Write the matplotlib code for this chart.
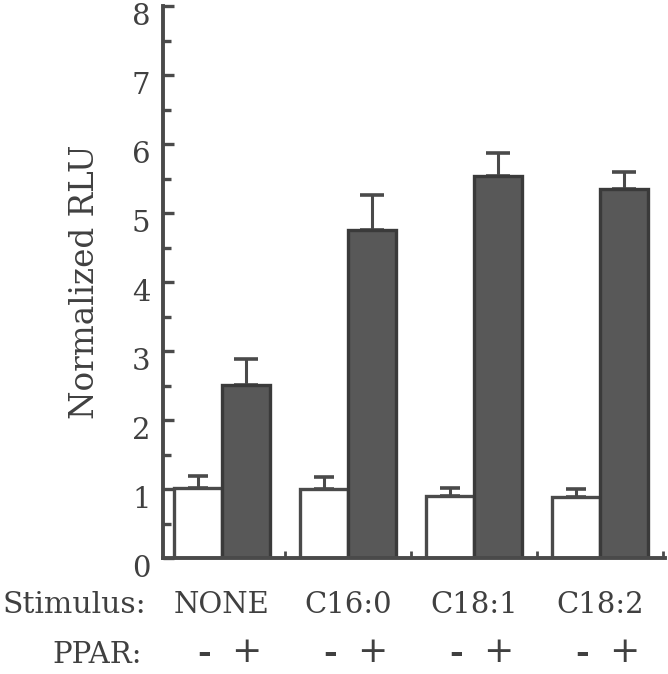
import matplotlib
matplotlib.use("Agg")
import matplotlib.pyplot as plt
import numpy as np
from matplotlib.transforms import blended_transform_factory, ScaledTranslation

stimuli = ["NONE", "C16:0", "C18:1", "C18:2"]
ppar_minus = [1.01, 1.00, 0.90, 0.88]
ppar_minus_err = [0.18, 0.17, 0.11, 0.12]
ppar_plus = [2.51, 4.75, 5.54, 5.35]
ppar_plus_err = [0.37, 0.51, 0.33, 0.24]
yticks = [0, 1, 2, 3, 4, 5, 6, 7, 8]

plt.rcParams['font.family'] = ['DejaVu Serif']
ink = '#4a4a4a'
txt = '#404040'

fig = plt.figure(figsize=(6.68, 6.74), dpi=100)
ax = fig.add_axes([0.244, 0.172, 0.7515, 0.819])

x = np.arange(len(stimuli))
w = 0.38
ax.bar(x - w/2, ppar_minus, width=w, color='white', edgecolor=ink, linewidth=2.4, zorder=2)
ax.bar(x + w/2, ppar_plus, width=w, color='#585858', edgecolor='#3a3a3a', linewidth=2.4, zorder=2)
ax.errorbar(x - w/2, ppar_minus, yerr=[np.zeros(4), ppar_minus_err], fmt='none',
            ecolor=ink, elinewidth=2.2, capsize=7.5, capthick=2.6, zorder=1)
ax.errorbar(x + w/2, ppar_plus, yerr=[np.zeros(4), ppar_plus_err], fmt='none',
            ecolor=ink, elinewidth=2.2, capsize=8.5, capthick=2.6, zorder=1)

ax.set_xlim(-0.468, 3.516)
ax.set_ylim(0, 8)
for s in ['top', 'right']:
    ax.spines[s].set_visible(False)
for s in ['left', 'bottom']:
    ax.spines[s].set_color(ink)
    ax.spines[s].set_linewidth(2.8)
    ax.spines[s].set_zorder(3)

ax.set_yticks(yticks)
ax.set_yticks(np.arange(0.5, 8, 1), minor=True)
ax.tick_params(axis='y', which='major', direction='in', length=8, width=2.4, color=ink,
               labelsize=21, labelcolor=txt, pad=9)
ax.tick_params(axis='y', which='minor', direction='in', length=6, width=2.4, color=ink)
off = ScaledTranslation(0, -6/72, fig.dpi_scale_trans)
for lab in ax.get_yticklabels():
    lab.set_transform(lab.get_transform() + off)
ax.set_xticks([0.5, 1.5, 2.5, 3.5])
ax.set_xticklabels([])
ax.tick_params(axis='x', which='major', direction='in', length=5, width=2.0, color=ink)

ax.set_ylabel("Normalized RLU", fontsize=23.5, color=txt, labelpad=22)

trans = blended_transform_factory(ax.transData, fig.transFigure)
fig.text(0.003, 1 - 605/674, "Stimulus:", fontsize=21.5, color=txt, va='center', ha='left')
fig.text(142/668, 1 - 655/674, "PPAR:", fontsize=21, color=txt, va='center', ha='right')
for i, s in enumerate(stimuli):
    ax.text(x[i], 1 - 605/674, s, transform=trans, fontsize=21, color=txt,
            ha='center', va='center')
    ax.text(x[i] - w/2 + 0.05, 1 - 654/674, "-", transform=trans, fontsize=24, color=txt,
            ha='center', va='center', fontweight='bold')
    ax.text(x[i] + w/2, 1 - 652/674, "+", transform=trans, fontsize=26, color=txt,
            ha='center', va='center')

fig.savefig("out.png", dpi=100)
